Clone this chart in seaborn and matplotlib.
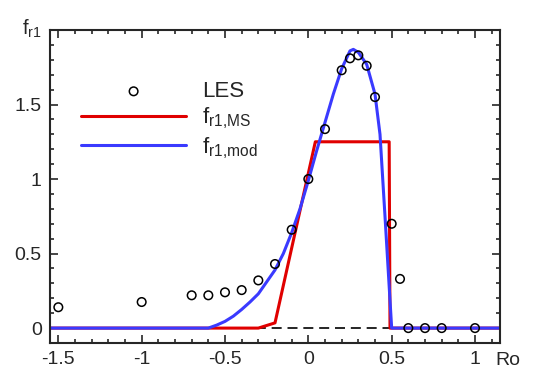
import matplotlib
matplotlib.use("Agg")
import matplotlib.pyplot as plt
import seaborn as sns
import pandas as pd
from matplotlib.ticker import MultipleLocator

# ---- data ----
les_x = [-1.5, -1.0, -0.7, -0.6, -0.5, -0.4, -0.3, -0.2, -0.1, 0.0, 0.1, 0.2,
         0.25, 0.3, 0.35, 0.4, 0.5, 0.55, 0.6, 0.7, 0.8, 1.0]
les_y = [0.14, 0.175, 0.22, 0.22, 0.24, 0.255, 0.32, 0.43, 0.66, 1.0, 1.335, 1.73,
         1.81, 1.83, 1.76, 1.55, 0.70, 0.33, 0.0, 0.0, 0.0, 0.0]

ms_x = [-1.55, -0.3, -0.2, 0.042, 0.485, 0.49, 1.15]
ms_y = [0.0, 0.0, 0.035, 1.25, 1.25, 0.0, 0.0]

mod_x = [-1.55, -0.6, -0.55, -0.5, -0.45, -0.4, -0.35, -0.3, -0.25, -0.2, -0.15, -0.1,
         -0.05, 0.0, 0.05, 0.1, 0.15, 0.2, 0.25, 0.27, 0.3, 0.35, 0.4, 0.43, 0.46, 0.5, 1.15]
mod_y = [0.0, 0.0, 0.02, 0.045, 0.08, 0.125, 0.175, 0.23, 0.31, 0.39, 0.5, 0.64,
         0.8, 0.99, 1.19, 1.38, 1.57, 1.74, 1.86, 1.87, 1.85, 1.77, 1.57, 1.30, 0.75, 0.0, 0.0]

ref_x = [-1.55, 1.15]
ref_y = [0.0, 0.0]

xticks = [-1.5, -1.0, -0.5, 0.0, 0.5, 1.0]
xticklabels = ["-1.5", "-1", "-0.5", "0", "0.5", "1"]
yticks = [0.0, 0.5, 1.0, 1.5]
yticklabels = ["0", "0.5", "1", "1.5"]

sns.set_style("ticks")
plt.rcParams["font.family"] = ["Liberation Sans", "DejaVu Sans"]
plt.rcParams["mathtext.default"] = "regular"

fig = plt.figure(figsize=(5.43, 3.74), dpi=100)
ax = fig.add_axes([50 / 543, 31 / 374, 450 / 543, 313 / 374])

df_ref = pd.DataFrame({"x": ref_x, "y": ref_y})
df_ms = pd.DataFrame({"x": ms_x, "y": ms_y})
df_mod = pd.DataFrame({"x": mod_x, "y": mod_y})
df_les = pd.DataFrame({"x": les_x, "y": les_y})

lab_ms = r"f$_{r1{,}MS}$"
lab_mod = r"f$_{r1{,}mod}$"

sns.lineplot(data=df_ref, x="x", y="y", ax=ax, color="black", lw=1.2,
             sort=False, estimator=None, legend=False)
ax.lines[-1].set_dashes((6, 3.5))
sns.lineplot(data=df_ms, x="x", y="y", ax=ax, color="#e00000", lw=2.2,
             sort=False, estimator=None, label=lab_ms)
sns.lineplot(data=df_mod, x="x", y="y", ax=ax, color="#3a3aff", lw=2.2,
             sort=False, estimator=None, label=lab_mod)
sns.scatterplot(data=df_les, x="x", y="y", ax=ax, marker="o", s=38,
                facecolor="none", edgecolor="black", linewidth=1.1, label="LES",
                zorder=5)

ax.set_xlim(-1.55, 1.15)
ax.set_ylim(-0.1, 2.0)
ax.set_xticks(xticks)
ax.set_xticklabels(xticklabels)
ax.set_yticks(yticks)
ax.set_yticklabels(yticklabels)
ax.xaxis.set_minor_locator(MultipleLocator(0.1))
ax.yaxis.set_minor_locator(MultipleLocator(0.1))
ax.tick_params(which="both", direction="in", top=True, right=True,
               labelsize=14, width=1.2)
ax.tick_params(which="major", length=6, pad=6)
ax.tick_params(which="minor", length=3)
for s in ax.spines.values():
    s.set_linewidth(1.5)

ax.set_xlabel("Ro", fontsize=14)
ax.xaxis.set_label_coords(1.0185, -0.028)
ax.xaxis.label.set_va("top")
ax.set_ylabel(r"f$_{r1}$", fontsize=14.5, rotation=0)
ax.yaxis.set_label_coords(-0.04, 1.005)
ax.yaxis.label.set_va("center")
ax.yaxis.label.set_ha("center")

h, l = ax.get_legend_handles_labels()
order = [l.index("LES"), l.index(lab_ms), l.index(lab_mod)]
ax.legend([h[i] for i in order], [l[i] for i in order], frameon=False,
          loc="upper left", bbox_to_anchor=(0.05, 0.865), fontsize=16,
          handlelength=4.7, handletextpad=0.75, labelspacing=0.17,
          borderaxespad=0)

fig.savefig("out.png", dpi=100)
